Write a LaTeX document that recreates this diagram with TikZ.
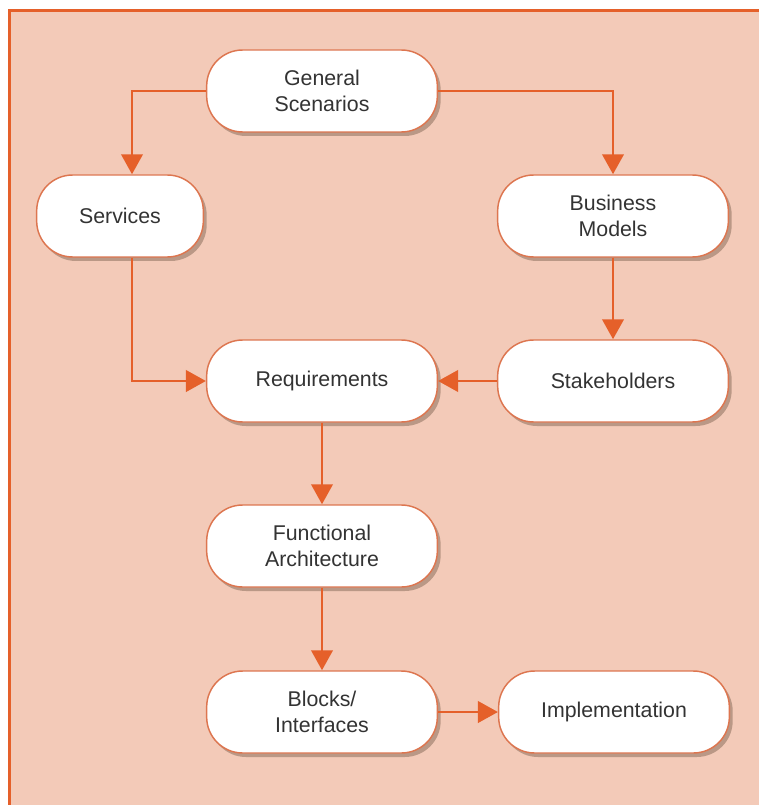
\documentclass[tikz,border=0pt]{standalone}
\usepackage{fontspec}
\setmainfont{Liberation Sans}
\usetikzlibrary{arrows.meta,shadows,calc}
\definecolor{bgsalmon}{HTML}{F3CAB8}
\definecolor{arroworange}{HTML}{E5602A}
\definecolor{nodeborder}{HTML}{DD7650}
\definecolor{textgray}{HTML}{333333}
\tikzset{
  flowbox/.style={draw=nodeborder, line width=1.1pt, fill=white,
    rounded corners=27pt, minimum width=173pt, minimum height=61.5pt,
    align=center, text=textgray, font=\fontsize{16}{20}\selectfont,
    drop shadow={shadow xshift=2.5pt, shadow yshift=-3pt, opacity=0.3, fill=black!70!brown}},
  flowarrow/.style={draw=arroworange, line width=2.2pt,
    -{Triangle[width=16pt,length=15pt]}}
}
\begin{document}
\begin{tikzpicture}[x=0.75pt,y=-0.75pt]
  \useasboundingbox (0,0) rectangle (758,805);
  \fill[white] (0,0) rectangle (758,805);
  \filldraw[fill=bgsalmon, draw=arroworange, line width=2pt] (9.5,10.5) rectangle (770,820);
  \node[flowbox] (gs) at (322,91) {General\\Scenarios};
  \node[flowbox, minimum width=125pt] (serv) at (120,216) {Services};
  \node[flowbox] (bm) at (613,216) {Business\\Models};
  \node[flowbox] (req) at (322,381) {Requirements};
  \node[flowbox] (stake) at (613,381) {Stakeholders};
  \node[flowbox] (fa) at (322,546) {Functional\\Architecture};
  \node[flowbox] (blk) at (322,712) {Blocks/\\Interfaces};
  \node[flowbox] (impl) at (614,712) {Implementation};
  \coordinate (servtop) at ($(serv.north)+(12,0)$);
  \coordinate (servbot) at ($(serv.south)+(12,0)$);
  \draw[flowarrow] (gs.west) -| (servtop);
  \draw[flowarrow] (gs.east) -| (bm.north);
  \draw[flowarrow] (servbot) |- (req.west);
  \draw[flowarrow] (bm.south) -- (stake.north);
  \draw[flowarrow] (stake.west) -- (req.east);
  \draw[flowarrow] (req.south) -- (fa.north);
  \draw[flowarrow] (fa.south) -- (blk.north);
  \draw[flowarrow] (blk.east) -- (impl.west);
\end{tikzpicture}
\end{document}
